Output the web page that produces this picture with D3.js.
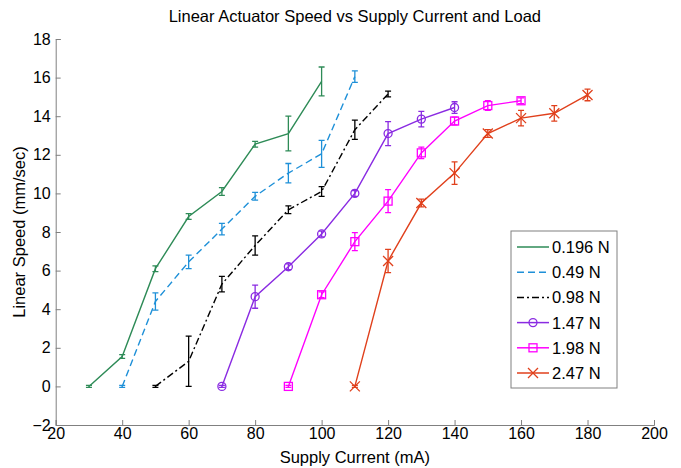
<!DOCTYPE html>
<html>
<head>
<meta charset="utf-8">
<script src="https://cdn.jsdelivr.net/npm/d3@7"></script>
<style>
  body { margin: 0; background: #fff; }
  text { font-family: Arial, "Liberation Sans", sans-serif; }
</style>
</head>
<body>
<svg id="chart" width="681" height="468"></svg>
<script>
// currents (mA) for each load
const current196 = [30, 40, 50, 60, 70, 80, 90, 100];
const current049 = [40, 50, 60, 70, 80, 90, 100, 110];
const current098 = [50, 60, 70, 80, 90, 100, 110, 120];
const current147 = [70, 80, 90, 100, 110, 120, 130, 140];
const current198 = [90, 100, 110, 120, 130, 140, 150, 160];
const current247 = [110, 120, 130, 140, 150, 160, 170, 180];

// speeds (mm/sec)
const speed196 = [0, 1.55, 6.1, 8.8, 10.1, 12.55, 13.1, 15.8];
const speed049 = [0, 4.4, 6.45, 8.15, 9.85, 11.05, 12.05, 16.05];
const speed098 = [0, 1.3, 5.3, 7.3, 9.15, 10.1, 13.3, 15.15];
const speed147 = [0, 4.65, 6.2, 7.9, 10.0, 13.1, 13.85, 14.45];
const speed198 = [0, 4.75, 7.5, 9.6, 12.1, 13.75, 14.55, 14.8];
const speed247 = [0, 6.5, 9.5, 11.05, 13.1, 13.9, 14.15, 15.1];

// error bar half-lengths
const err196 = [0.05, 0.1, 0.15, 0.15, 0.2, 0.15, 0.9, 0.75];
const err049 = [0.05, 0.45, 0.35, 0.3, 0.2, 0.5, 0.7, 0.3];
const err098 = [0.05, 1.3, 0.4, 0.5, 0.2, 0.25, 0.5, 0.15];
const err147 = [0.05, 0.6, 0.15, 0.15, 0.15, 0.62, 0.4, 0.3];
const err198 = [0.05, 0.15, 0.47, 0.6, 0.3, 0.2, 0.25, 0.15];
const err247 = [0.05, 0.6, 0.2, 0.58, 0.2, 0.4, 0.4, 0.3];

const loadLabels = ['0.196 N', '0.49 N', '0.98 N', '1.47 N', '1.98 N', '2.47 N'];
const xTicks = [20, 40, 60, 80, 100, 120, 140, 160, 180, 200];
const yTicks = [-2, 0, 2, 4, 6, 8, 10, 12, 14, 16, 18];

const series = [
  { label: loadLabels[0], x: current196, y: speed196, e: err196, color: '#2e8b57', dash: null, marker: null },
  { label: loadLabels[1], x: current049, y: speed049, e: err049, color: '#1e90d8', dash: '7,4', marker: null },
  { label: loadLabels[2], x: current098, y: speed098, e: err098, color: '#000000', dash: '7,3,2,3', marker: null },
  { label: loadLabels[3], x: current147, y: speed147, e: err147, color: '#8a2be2', dash: null, marker: 'circle' },
  { label: loadLabels[4], x: current198, y: speed198, e: err198, color: '#ff00ff', dash: null, marker: 'square' },
  { label: loadLabels[5], x: current247, y: speed247, e: err247, color: '#e0401c', dash: null, marker: 'cross' }
];

const svg = d3.select('#chart');
const plot = { left: 55.7, right: 654, top: 39, bottom: 425 };
const axisColor = '#808080';

svg.append('rect').attr('width', 681).attr('height', 468).attr('fill', '#fff');

const xScale = d3.scaleLinear().domain([20, 200]).range([plot.left, plot.right]);
const yScale = d3.scaleLinear().domain([-2, 18]).range([plot.bottom, plot.top]);

const xAxis = svg.append('g')
  .attr('transform', `translate(0, ${plot.bottom})`)
  .call(d3.axisBottom(xScale).tickValues(xTicks).tickSizeInner(-5).tickSizeOuter(-5).tickPadding(3));

const yAxis = svg.append('g')
  .attr('transform', `translate(${plot.left}, 0)`)
  .call(d3.axisLeft(yScale).tickValues(yTicks).tickSizeInner(-5).tickSizeOuter(-5).tickPadding(5));

[xAxis, yAxis].forEach(ax => {
  ax.select('.domain').attr('stroke', axisColor);
  ax.selectAll('.tick line').attr('stroke', axisColor);
  ax.selectAll('.tick text').attr('fill', '#000').style('font-size', '16px');
});

svg.append('text')
  .attr('x', (plot.left + plot.right) / 2)
  .attr('y', 22)
  .attr('text-anchor', 'middle')
  .style('font-size', '16.5px')
  .text('Linear Actuator Speed vs Supply Current and Load');

svg.append('text')
  .attr('x', (plot.left + plot.right) / 2)
  .attr('y', 463)
  .attr('text-anchor', 'middle')
  .style('font-size', '16.5px')
  .text('Supply Current (mA)');

svg.append('text')
  .attr('transform', `translate(25, ${(plot.top + plot.bottom) / 2}) rotate(-90)`)
  .attr('text-anchor', 'middle')
  .style('font-size', '16.5px')
  .text('Linear Speed (mm/sec)');

function drawMarker(g, type, cx, cy, color) {
  if (type === 'circle') {
    g.append('circle').attr('cx', cx).attr('cy', cy).attr('r', 4)
      .attr('fill', 'none').attr('stroke', color).attr('stroke-width', 1.3);
  } else if (type === 'square') {
    g.append('rect').attr('x', cx - 4).attr('y', cy - 4).attr('width', 8).attr('height', 8)
      .attr('fill', 'none').attr('stroke', color).attr('stroke-width', 1.3);
  } else if (type === 'cross') {
    g.append('path').attr('d', `M${cx - 5},${cy - 5}L${cx + 5},${cy + 5}M${cx - 5},${cy + 5}L${cx + 5},${cy - 5}`)
      .attr('stroke', color).attr('stroke-width', 1.3);
  }
}

const line = d3.line().x(d => xScale(d[0])).y(d => yScale(d[1]));

series.forEach(s => {
  const pts = s.x.map((x, i) => [x, s.y[i], s.e[i]]);
  const g = svg.append('g');

  g.append('path')
    .datum(pts)
    .attr('d', line)
    .attr('fill', 'none')
    .attr('stroke', s.color)
    .attr('stroke-width', 1.4)
    .attr('stroke-dasharray', s.dash);

  // error bars
  pts.forEach(p => {
    const cx = xScale(p[0]);
    const y1 = yScale(p[1] + p[2]);
    const y2 = yScale(p[1] - p[2]);
    g.append('path')
      .attr('d', `M${cx},${y1}L${cx},${y2}M${cx - 3},${y1}L${cx + 3},${y1}M${cx - 3},${y2}L${cx + 3},${y2}`)
      .attr('stroke', s.color)
      .attr('stroke-width', 1.3)
      .attr('fill', 'none');
    drawMarker(g, s.marker, cx, yScale(p[1]), s.color);
  });
});

// legend
const legend = svg.append('g');
legend.append('rect')
  .attr('x', 511).attr('y', 231).attr('width', 106).attr('height', 157)
  .attr('fill', '#fff').attr('stroke', axisColor);

series.forEach((s, i) => {
  const ly = 247 + i * 25.2;
  legend.append('line')
    .attr('x1', 517).attr('x2', 549).attr('y1', ly).attr('y2', ly)
    .attr('stroke', s.color).attr('stroke-width', 1.5)
    .attr('stroke-dasharray', s.dash);
  drawMarker(legend, s.marker, 533, ly, s.color);
  legend.append('text')
    .attr('x', 552).attr('y', ly)
    .attr('dy', '0.36em')
    .style('font-size', '16.5px')
    .text(s.label);
});
</script>
</body>
</html>
